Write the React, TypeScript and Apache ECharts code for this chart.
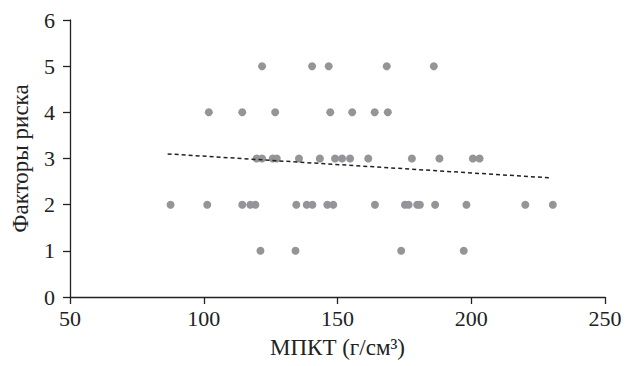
import React, { useEffect, useRef } from "react";
import * as echarts from "echarts";

const xTicks = [50, 100, 150, 200, 250];
const yTicks = [0, 1, 2, 3, 4, 5, 6];

// [МПКТ, risk factors]
const row5 = [121.8, 140.5, 146.7, 168.4, 186.0];
const row4 = [101.9, 114.4, 126.7, 147.3, 155.5, 163.9, 168.8];
const row3 = [119.8, 121.8, 125.8, 127.3, 135.6, 143.4, 149.1, 151.7, 154.7, 161.5, 177.8, 188.1, 200.6, 203.1];
const row2 = [87.6, 101.3, 114.4, 117.4, 119.3, 134.6, 138.5, 140.6, 146.2, 148.4, 164.0, 175.2, 176.6, 179.8, 180.8, 186.5, 198.2, 220.2, 230.5];
const row1 = [121.2, 134.3, 173.8, 197.2];

const trendX = [86.5, 229.5];
const trendY = [3.1, 2.58];

const FONT = "Times New Roman, Liberation Serif, DejaVu Serif, serif";
const INK = "#222222";

export default function App() {
  const ref = useRef<HTMLDivElement>(null);
  useEffect(() => {
    if (!ref.current) return;
    const chart = echarts.init(ref.current, undefined, { renderer: "svg" });
    const points: number[][] = [];
    const rows: [number, number[]][] = [[5, row5], [4, row4], [3, row3], [2, row2], [1, row1]];
    rows.forEach(([y, xs]) => xs.forEach((x) => points.push([x, y])));
    chart.setOption({
      animation: false,
      textStyle: { fontFamily: FONT },
      grid: { left: 70, right: 35, top: 20, bottom: 69 },
      xAxis: {
        type: "value",
        min: xTicks[0],
        max: xTicks[xTicks.length - 1],
        interval: 50,
        name: "МПКТ (г/см³)",
        nameLocation: "middle",
        nameGap: 39,
        nameTextStyle: { fontFamily: FONT, fontSize: 23, color: INK },
        axisLine: { lineStyle: { color: INK, width: 1.3 } },
        axisTick: { show: true, length: 7, lineStyle: { color: INK, width: 1.3 } },
        axisLabel: { fontFamily: FONT, fontSize: 22, color: INK, margin: 10 },
        splitLine: { show: false },
      },
      yAxis: {
        type: "value",
        min: yTicks[0],
        max: yTicks[yTicks.length - 1],
        interval: 1,
        name: "Факторы риска",
        nameLocation: "middle",
        nameGap: 38,
        nameTextStyle: { fontFamily: FONT, fontSize: 23, color: INK },
        axisLine: { show: true, lineStyle: { color: INK, width: 1.3 } },
        axisTick: { show: true, length: 7, lineStyle: { color: INK, width: 1.3 } },
        axisLabel: { fontFamily: FONT, fontSize: 22, color: INK, margin: 15 },
        splitLine: { show: false },
      },
      series: [
        {
          type: "scatter",
          data: points,
          symbolSize: 8,
          itemStyle: { color: "#939598", opacity: 1 },
        },
        {
          type: "line",
          data: [[trendX[0], trendY[0]], [trendX[1], trendY[1]]],
          symbol: "none",
          lineStyle: { color: INK, width: 1.5, type: [4, 3] },
        },
      ],
    });
    return () => chart.dispose();
  }, []);
  return (
    <div
      ref={ref}
      style={{ position: "fixed", left: 0, top: 0, width: 640, height: 366, background: "#fff" }}
    />
  );
}
